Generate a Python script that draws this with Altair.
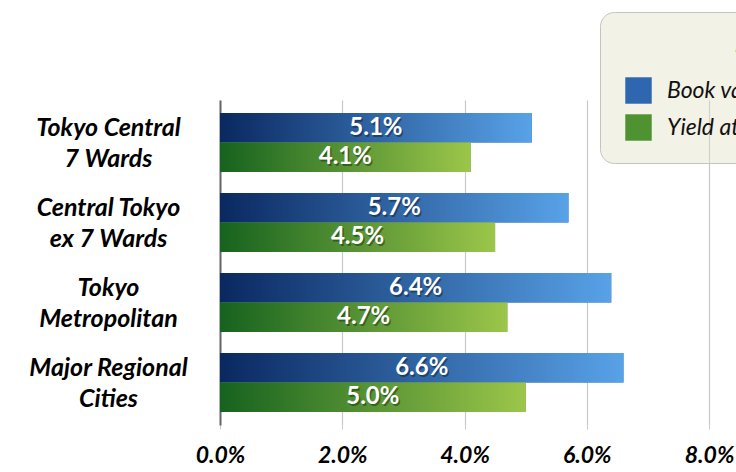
import altair as alt
import pandas as pd

categories = ["Tokyo Central|7 Wards", "Central Tokyo|ex 7 Wards", "Tokyo|Metropolitan", "Major Regional|Cities"]
series = ["Book value yield", "Yield at acquisition"]
book_values = [5.1, 5.7, 6.4, 6.6]
yield_values = [4.1, 4.5, 4.7, 5.0]
tick_values = [0, 2, 4, 6, 8]

rows = []
for c, b, y in zip(categories, book_values, yield_values):
    rows.append({"category": c, "series": series[0], "value": b})
    rows.append({"category": c, "series": series[1], "value": y})
df = pd.DataFrame(rows)

FONT = "Lato"

y_enc = alt.Y(
    "category:N",
    sort=categories,
    scale=alt.Scale(paddingInner=0.2625, paddingOuter=0.1625),
    axis=alt.Axis(
        title=None,
        labelExpr="split(datum.label, '|')",
        labelFont=FONT,
        labelFontSize=25,
        labelFontWeight="bold",
        labelFontStyle="italic",
        labelColor="#000000",
        labelAlign="center",
        labelBaseline="middle",
        labelLineHeight=31,
        labelOffset=-15,
        labelPadding=112,
        ticks=False,
        domain=True,
        domainColor="#666666",
        domainWidth=2,
        grid=False,
        labelLimit=400,
    ),
)
yoff = alt.YOffset("series:N", sort=series, scale=alt.Scale(paddingInner=0, paddingOuter=0))

x_scale = alt.Scale(domain=[0, 8.44], nice=False, zero=True)
x_enc = alt.X(
    "value:Q",
    scale=x_scale,
    axis=alt.Axis(
        title=None,
        values=tick_values,
        labelExpr="format(datum.value, '.1f') + '%'",
        labelFont=FONT,
        labelFontSize=23,
        labelFontWeight="bold",
        labelFontStyle="italic",
        labelColor="#000000",
        labelPadding=15,
        labelFlush=False,
        ticks=True,
        tickSize=4,
        tickColor="#c8c8c8",
        domain=False,
        grid=True,
        gridColor="#c8c8c8",
        gridWidth=1.2,
    ),
)

base = alt.Chart(df)

legend_bars = base.mark_bar().encode(
    x=x_enc,
    y=y_enc,
    yOffset=yoff,
    color=alt.Color(
        "series:N",
        sort=series,
        scale=alt.Scale(domain=series, range=["#2f66b0", "#4f9231"]),
        legend=alt.Legend(
            title="NOI Yield",
            orient="none",
            legendX=380,
            legendY=-88,
            direction="vertical",
            padding=22,
            cornerRadius=14,
            strokeColor="#c4c4c0",
            fillColor="rgba(226,224,196,0.42)",
            titleFont=FONT,
            titleFontSize=23,
            titleFontWeight="bold",
            titleFontStyle="italic",
            titleColor="#000000",
            titleAnchor="middle",
            titleAlign="left",
            titlePadding=20,
            labelFont=FONT,
            labelFontSize=23,
            labelFontStyle="italic",
            labelColor="#111111",
            labelOffset=15,
            labelLimit=181,
            symbolType="square",
            symbolSize=700,
            symbolOffset=3,
            symbolStrokeWidth=0,
            rowPadding=10,
        ),
    ),
)

blue_grad = alt.Gradient(
    gradient="linear",
    stops=[alt.GradientStop(color="#0a2860", offset=0), alt.GradientStop(color="#58a2e8", offset=1)],
    x1=0, x2=1, y1=0, y2=0,
)
green_grad = alt.Gradient(
    gradient="linear",
    stops=[alt.GradientStop(color="#16621f", offset=0), alt.GradientStop(color="#9cc64a", offset=1)],
    x1=0, x2=1, y1=0, y2=0,
)

blue_bars = base.transform_filter(alt.datum.series == series[0]).mark_bar(color=blue_grad).encode(
    x=x_enc, y=y_enc, yOffset=yoff
)
green_bars = base.transform_filter(alt.datum.series == series[1]).mark_bar(color=green_grad).encode(
    x=x_enc, y=y_enc, yOffset=yoff
)

label_base = base.transform_calculate(
    mid="datum.value / 2", lab="format(datum.value, '.1f') + '%'"
)
shadow = label_base.mark_text(
    font=FONT, fontSize=24, fontWeight="bold", color="#000000", opacity=0.35, dx=1.5, dy=2
).encode(x=alt.X("mid:Q", scale=x_scale), y=alt.Y("category:N", sort=categories), yOffset=yoff, text="lab:N")
labels = label_base.mark_text(
    font=FONT, fontSize=24, fontWeight="bold", color="#ffffff"
).encode(x=alt.X("mid:Q", scale=x_scale), y=alt.Y("category:N", sort=categories), yOffset=yoff, text="lab:N")

chart = alt.layer(legend_bars, blue_bars, green_bars, shadow, labels).properties(
    width=516,
    height=325,
    autosize=alt.AutoSizeParams(type="none"),
    padding={"left": 220, "top": 100, "right": 0, "bottom": 47},
    background="#ffffff",
).configure_view(stroke=None)

chart.save("out.html", embed_options={"renderer": "svg", "actions": False})
